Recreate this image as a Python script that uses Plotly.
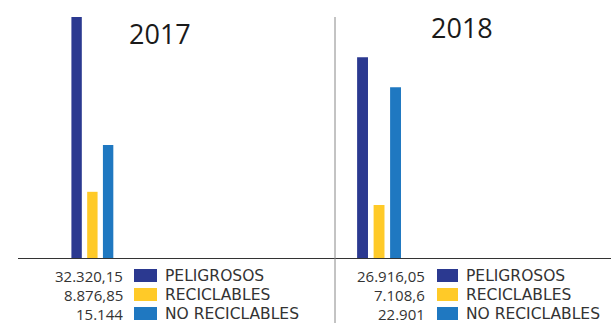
import plotly.graph_objects as go

# Waste generated per year, by type
years = ["2017", "2018"]
categories = ["PELIGROSOS", "RECICLABLES", "NO RECICLABLES"]
values_2017 = [32320.15, 8876.85, 15144]
values_2018 = [26916.05, 7108.6, 22901]
value_labels_2017 = ["32.320,15", "8.876,85", "15.144"]
value_labels_2018 = ["26.916,05", "7.108,6", "22.901"]
colors = ["#2B3990", "#FFCA28", "#1F78C1"]

W, H = 611, 323
L, R, T, B = 18, 0, 17, 65
PW, PH = W - L - R, H - T - B


def px(x):
    return (x - L) / PW


def py(y):
    return (H - B - y) / PH


fig = go.Figure()
for axis, vals in (("x", values_2017), ("x2", values_2018)):
    fig.add_trace(go.Bar(
        x=categories, y=vals, xaxis=axis, yaxis="y",
        marker=dict(color=colors, line=dict(width=0)),
        showlegend=False, hoverinfo="skip",
    ))

split = px(335)
ymax = max(values_2017 + values_2018)

fig.update_layout(
    width=W, height=H,
    margin=dict(l=L, r=R, t=T, b=B),
    paper_bgcolor="white", plot_bgcolor="white",
    bargap=0.34,
    xaxis=dict(domain=[0, split], range=[-3.72, 16.4], showticklabels=False,
               showgrid=False, zeroline=False, showline=True,
               linecolor="#333", linewidth=1, ticks=""),
    xaxis2=dict(domain=[split, 1], range=[-1.67, 15.06], showticklabels=False,
                showgrid=False, zeroline=False, showline=True,
                linecolor="#333", linewidth=1, ticks="", anchor="y"),
    yaxis=dict(range=[0, ymax], visible=False, showgrid=False, zeroline=False),
)

# Separator between the two years
fig.add_shape(type="line", xref="paper", yref="paper",
              x0=split, x1=split, y0=1, y1=py(H),
              line=dict(color="#888", width=1))

# Year titles
for year, cx, cy in ((years[0], 160, 33.5), (years[1], 462, 28)):
    fig.add_annotation(text=year, xref="paper", yref="paper",
                       x=px(cx), y=py(cy), showarrow=False,
                       xanchor="center", yanchor="middle",
                       font=dict(family="Open Sans", size=27, color="#1a1a1a"))

# Value / swatch / category rows under each year
blocks = (
    (value_labels_2017, 125, 134, 157, 163),
    (value_labels_2018, 427, 437, 458, 464),
)
row_centres = [275.5, 294.5, 313.5]
for labels, val_right, sq_l, sq_r, name_left in blocks:
    for i, (lab, cat, col) in enumerate(zip(labels, categories, colors)):
        cy = row_centres[i]
        fig.add_annotation(text=lab, xref="paper", yref="paper",
                           x=px(val_right), y=py(cy), showarrow=False,
                           xanchor="right", yanchor="middle",
                           font=dict(family="Open Sans", size=15, color="#333"))
        fig.add_shape(type="rect", xref="paper", yref="paper",
                      x0=px(sq_l), x1=px(sq_r),
                      y0=py(cy - 6.5), y1=py(cy + 6.5),
                      fillcolor=col, line=dict(width=0))
        fig.add_annotation(text=cat, xref="paper", yref="paper",
                           x=px(name_left), y=py(cy), showarrow=False,
                           xanchor="left", yanchor="middle",
                           font=dict(family="DejaVu Sans", size=15.5, color="#333"))

fig.write_html("out.html", config={"displayModeBar": False})
